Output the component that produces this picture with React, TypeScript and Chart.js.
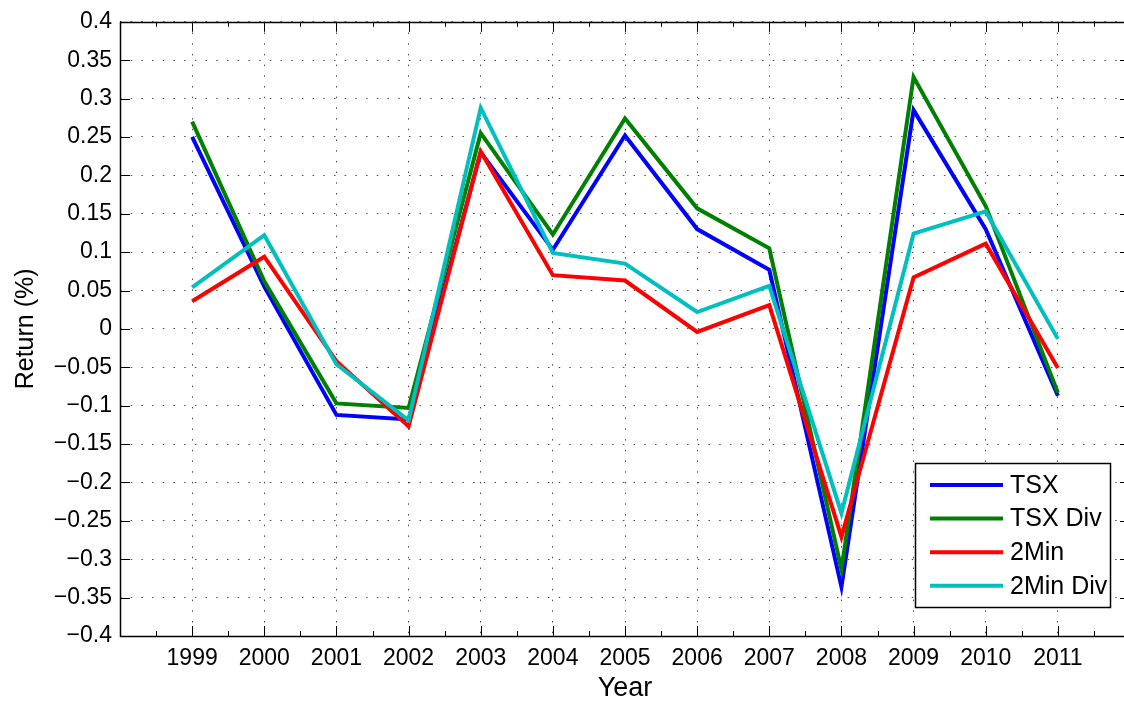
import React, { useEffect, useRef } from "react";
import { Chart, registerables } from "chart.js";

Chart.register(...registerables);

const years = [1999, 2000, 2001, 2002, 2003, 2004, 2005, 2006, 2007, 2008, 2009, 2010, 2011];
const seriesNames = ["TSX", "TSX Div", "2Min", "2Min Div"];
const tsx = [0.25, 0.055, -0.112, -0.118, 0.23, 0.103, 0.252, 0.13, 0.077, -0.336, 0.285, 0.13, -0.087];
const tsxDiv = [0.27, 0.062, -0.097, -0.103, 0.255, 0.123, 0.274, 0.157, 0.105, -0.313, 0.328, 0.16, -0.083];
const min2 = [0.036, 0.094, -0.042, -0.127, 0.231, 0.07, 0.063, -0.004, 0.031, -0.271, 0.067, 0.111, -0.051];
const min2Div = [0.054, 0.122, -0.046, -0.119, 0.288, 0.099, 0.085, 0.022, 0.056, -0.24, 0.124, 0.153, -0.013];
const colors = ["#0000ff", "#008000", "#ff0000", "#00bfbf"];
const yTickStep = 0.05;
const xTitle = "Year";
const yTitle = "Return (%)";

const FONT = "'Liberation Sans', Arial, Helvetica, sans-serif";

const framePlugin = {
  id: "frameTicks",
  afterDatasetsDraw(chart: any) {
    const { ctx, chartArea } = chart;
    const { left, right, top, bottom } = chartArea;
    const xs = chart.scales.x;
    const ys = chart.scales.y;
    ctx.save();
    ctx.strokeStyle = "#000";
    ctx.lineWidth = 1;
    ctx.beginPath();
    for (let v = xs.min; v <= xs.max + 1e-9; v += 0.5) {
      const px = Math.round(xs.getPixelForValue(v)) + 0.5;
      const len = Math.abs(v - Math.round(v)) < 1e-9 ? 10 : 5;
      ctx.moveTo(px, bottom);
      ctx.lineTo(px, bottom - len);
      ctx.moveTo(px, top);
      ctx.lineTo(px, top + len);
    }
    ys.ticks.forEach((t: any) => {
      const py = Math.round(ys.getPixelForValue(t.value)) + 0.5;
      ctx.moveTo(left, py);
      ctx.lineTo(left + 10, py);
      ctx.moveTo(right, py);
      ctx.lineTo(right - 10, py);
    });
    ctx.stroke();
    ctx.lineWidth = 1.5;
    ctx.strokeRect(Math.round(left) + 0.5, Math.round(top) + 0.5, Math.round(right - left), Math.round(bottom - top));
    ctx.restore();
  },
  afterDraw(chart: any) {
    const { ctx, chartArea } = chart;
    const bx = chartArea.right - 215;
    const by = chartArea.bottom - 173;
    const bw = 195;
    const bh = 144;
    ctx.save();
    ctx.fillStyle = "#fff";
    ctx.fillRect(bx, by, bw, bh);
    ctx.strokeStyle = "#000";
    ctx.lineWidth = 1.5;
    ctx.strokeRect(bx + 0.5, by + 0.5, bw, bh);
    ctx.font = `25px ${FONT}`;
    ctx.textBaseline = "middle";
    ctx.fillStyle = "#000";
    chart.data.datasets.forEach((ds: any, i: number) => {
      const y = by + 22 + i * 33.6;
      ctx.strokeStyle = ds.borderColor;
      ctx.lineWidth = 4;
      ctx.beginPath();
      ctx.moveTo(bx + 15, y);
      ctx.lineTo(bx + 88, y);
      ctx.stroke();
      ctx.fillText(ds.label, bx + 95, y + 1);
    });
    ctx.restore();
  },
};

function fmtY(v: number) {
  const r = Math.round(v * 100) / 100;
  if (Math.abs(r) < 1e-9) return "0";
  const s = String(Number(r.toFixed(2)));
  return s.replace("-", "\u2212");
}

export default function App() {
  const ref = useRef<HTMLCanvasElement | null>(null);
  useEffect(() => {
    if (!ref.current) return;
    const seriesData = [tsx, tsxDiv, min2, min2Div];
    const chart = new Chart(ref.current, {
      type: "line",
      data: {
        datasets: seriesData.map((vals, i) => ({
          label: seriesNames[i],
          data: years.map((yr, j) => ({ x: yr, y: vals[j] })),
          borderColor: colors[i],
          backgroundColor: colors[i],
          borderWidth: 4,
          pointRadius: 0,
          tension: 0,
          fill: false,
          order: 4 - i,
        })),
      },
      options: {
        animation: false,
        responsive: false,
        devicePixelRatio: 1,
        layout: { padding: { top: 20, right: 10, left: 0, bottom: 0 } },
        plugins: { legend: { display: false }, tooltip: { enabled: false } },
        scales: {
          x: {
            type: "linear",
            min: 1998,
            max: 2012,
            afterFit: (s: any) => {
              s.height = 70;
            },
            ticks: {
              stepSize: 1,
              autoSkip: false,
              maxRotation: 0,
              padding: 9,
              color: "#000",
              font: { family: FONT, size: 23 },
              callback: (v: any) => (v <= 1998 || v >= 2012 ? "" : String(v)),
            },
            grid: { drawTicks: false, color: "rgba(0,0,0,0.7)", lineWidth: 1 },
            border: { display: false, dash: [1.5, 9.2] },
            title: {
              display: true,
              text: xTitle,
              color: "#000",
              font: { family: FONT, size: 27 },
              padding: { top: 0, bottom: 1 },
            },
          },
          y: {
            type: "linear",
            min: -0.4,
            max: 0.4,
            afterFit: (s: any) => {
              s.width = 120;
            },
            ticks: {
              stepSize: yTickStep,
              autoSkip: false,
              padding: 8,
              color: "#000",
              font: { family: FONT, size: 23 },
              callback: (v: any) => fmtY(Number(v)),
            },
            grid: { drawTicks: false, color: "rgba(0,0,0,0.7)", lineWidth: 1 },
            border: { display: false, dash: [1.5, 9.2] },
            title: {
              display: true,
              text: yTitle,
              color: "#000",
              font: { family: FONT, size: 25 },
              padding: { top: 11, bottom: 0 },
            },
          },
        },
      },
      plugins: [framePlugin],
    } as any);
    return () => chart.destroy();
  }, []);
  return (
    <div
      style={{
        position: "fixed",
        left: 0,
        top: 0,
        width: 1124,
        height: 706,
        overflow: "hidden",
        background: "#fff",
      }}
    >
      <canvas ref={ref} width={1140} height={706} style={{ display: "block" }} />
    </div>
  );
}
